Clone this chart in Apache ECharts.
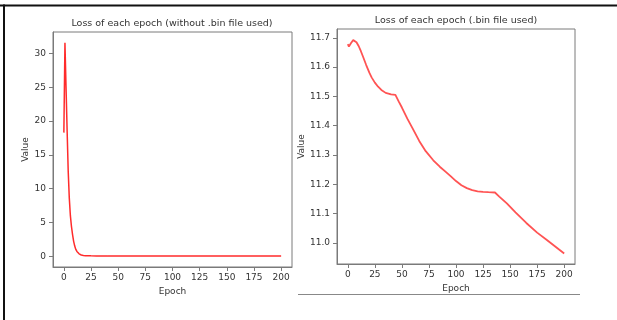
<!DOCTYPE html>
<html>
<head>
<meta charset="utf-8">
<script src="https://cdn.jsdelivr.net/npm/echarts@6/dist/echarts.min.js"></script>
<style>html,body{margin:0;padding:0;background:#fff;}#c{width:617px;height:320px;}</style>
</head>
<body>
<div id="c"></div>
<script>
// ---- Data ----
var leftTitle = 'Loss of each epoch (without .bin file used)';
var rightTitle = 'Loss of each epoch (.bin file used)';
var xTicks = [0, 25, 50, 75, 100, 125, 150, 175, 200];
var leftYTicks = [0, 5, 10, 15, 20, 25, 30];
var rightYTicks = [11.0, 11.1, 11.2, 11.3, 11.4, 11.5, 11.6, 11.7];

var leftEpochs = [0,1,2,3,4,5,6,7,8,9,10,11,12,13,14,15,16,17,18,19,20,25,30,40,50,75,100,125,150,175,200];
var leftLoss   = [18.3,31.6,25.0,18.6,12.6,8.6,6.0,4.4,3.2,2.2,1.5,1.0,0.7,0.5,0.35,0.25,0.18,0.13,0.1,0.08,0.07,0.05,0.04,0.03,0.03,0.02,0.02,0.02,0.02,0.02,0.02];

var rightEpochs = [0,1,2,3,5,6,8,10,12,14,17,20,22,25,28,31,35,40,44,47,50,55,60,66,72,79,85,90,95,100,105,110,115,120,125,130,136,140,147,155,165,175,184,192,200];
var rightLoss   = [11.678,11.670,11.672,11.682,11.692,11.692,11.685,11.672,11.655,11.636,11.607,11.580,11.565,11.547,11.533,11.522,11.512,11.507,11.505,11.483,11.462,11.424,11.390,11.348,11.313,11.282,11.260,11.244,11.228,11.211,11.197,11.187,11.180,11.176,11.174,11.173,11.172,11.158,11.135,11.104,11.068,11.035,11.010,10.987,10.964];

function pairs(xs, ys) { return xs.map(function (x, i) { return [x, ys[i]]; }); }

var FONT = 'DejaVu Sans';
var AX = '#7a7a7a';
var TXT = '#333';

function xAxis(gridIndex, gap) {
  return {
    type: 'value', gridIndex: gridIndex, min: -10, max: 210,
    name: 'Epoch', nameLocation: 'middle', nameGap: gap,
    nameTextStyle: { fontFamily: FONT, fontSize: 9, color: TXT },
    splitLine: { show: false },
    axisLine: { show: true, onZero: false, lineStyle: { color: AX, width: 1 } },
    axisTick: { show: true, length: 4, lineStyle: { color: AX }, customValues: xTicks },
    axisLabel: { fontFamily: FONT, fontSize: 9, color: TXT, margin: 6, customValues: xTicks,
                 formatter: function (v) { return String(v); } }
  };
}
function yAxis(gridIndex, min, max, ticks, gap, fmt) {
  return {
    type: 'value', gridIndex: gridIndex, min: min, max: max,
    name: 'Value', nameLocation: 'middle', nameGap: gap, nameRotate: 90,
    nameTextStyle: { fontFamily: FONT, fontSize: 9, color: TXT },
    splitLine: { show: false },
    axisLine: { show: true, onZero: false, lineStyle: { color: AX, width: 1 } },
    axisTick: { show: true, length: 4, lineStyle: { color: AX }, customValues: ticks },
    axisLabel: { fontFamily: FONT, fontSize: 9, color: TXT, margin: 7, customValues: ticks, formatter: fmt }
  };
}

var chart = echarts.init(document.getElementById('c'), null, { renderer: 'canvas' });
chart.setOption({
  animation: false,
  backgroundColor: '#fff',
  grid: [
    { left: 53, top: 32, width: 239, height: 235, show: true, borderColor: AX, borderWidth: 1, backgroundColor: 'transparent' },
    { left: 337, top: 29, width: 238, height: 235, show: true, borderColor: AX, borderWidth: 1, backgroundColor: 'transparent' }
  ],
  xAxis: [xAxis(0, 17), xAxis(1, 17)],
  yAxis: [
    yAxis(0, -1.6, 33.2, leftYTicks, 20, function (v) { return String(v); }),
    yAxis(1, 10.928, 11.73, rightYTicks, 27, function (v) { return v.toFixed(1); })
  ],
  series: [
    { type: 'line', xAxisIndex: 0, yAxisIndex: 0, data: pairs(leftEpochs, leftLoss), showSymbol: false,
      smooth: false,
      lineStyle: { color: 'rgba(255,20,20,0.9)', width: 1.5 } },
    { type: 'line', xAxisIndex: 1, yAxisIndex: 1, data: pairs(rightEpochs, rightLoss), showSymbol: false,
      smooth: false,
      lineStyle: { color: 'rgba(255,40,40,0.8)', width: 1.8 } }
  ],
  graphic: [
    { type: 'text', x: 172, y: 24, style: { text: leftTitle, fontFamily: FONT, fontSize: 9.5, fill: TXT, textAlign: 'center', textVerticalAlign: 'middle' } },
    { type: 'text', x: 456, y: 20.5, style: { text: rightTitle, fontFamily: FONT, fontSize: 9.5, fill: TXT, textAlign: 'center', textVerticalAlign: 'middle' } },
    { type: 'rect', shape: { x: 0, y: 4.5, width: 617, height: 2 }, style: { fill: '#111' } },
    { type: 'rect', shape: { x: 3, y: 4.5, width: 2, height: 316 }, style: { fill: '#111' } },
    { type: 'line', shape: { x1: 298, y1: 294.5, x2: 580, y2: 294.5 }, style: { stroke: '#888', lineWidth: 1 } }
  ]
});
</script>
</body>
</html>
